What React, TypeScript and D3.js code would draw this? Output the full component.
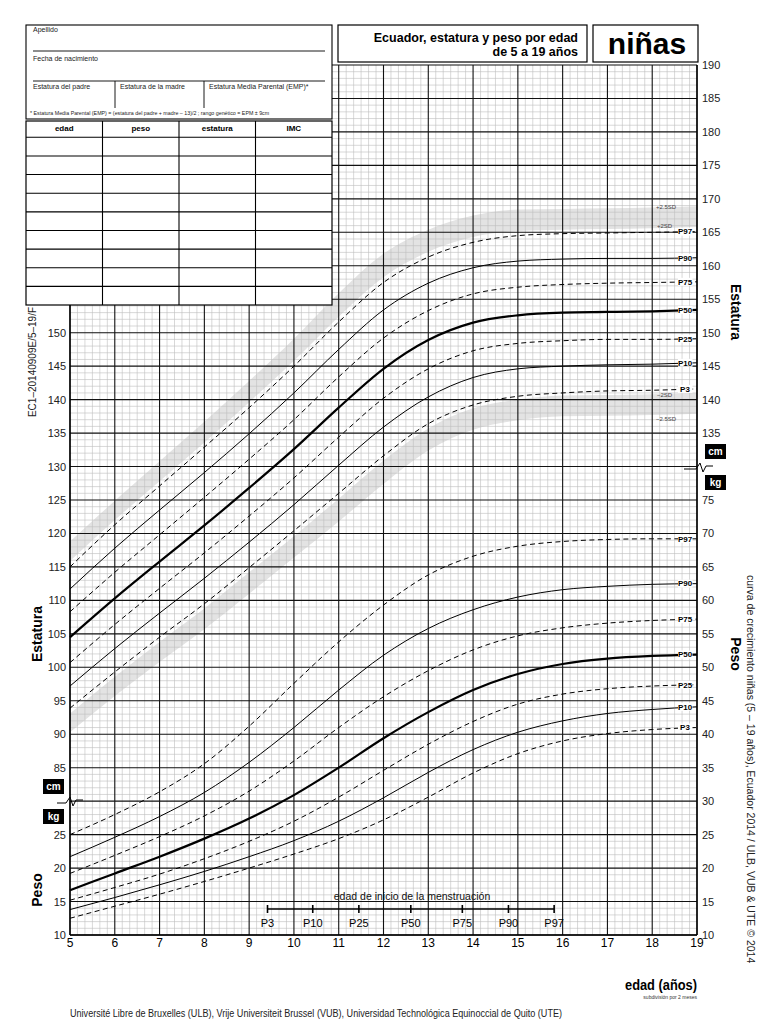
import React from "react";
import * as d3 from "d3";

// ---------- data ----------
const AGES = [5, 6, 7, 8, 9, 10, 11, 12, 13, 14, 15, 16, 17, 18, 19];

// height (cm)
const H_P3 = [93.9, 99.3, 104.5, 109.5, 114.9, 120.4, 126.0, 131.6, 136.4, 139.2, 140.5, 141.0, 141.3, 141.4, 141.6];
const H_P10 = [97.2, 102.8, 108.1, 113.3, 118.7, 124.3, 130.2, 135.9, 140.4, 143.3, 144.6, 145.0, 145.2, 145.3, 145.5];
const H_P25 = [100.7, 106.4, 111.8, 117.1, 122.6, 128.3, 134.4, 140.2, 144.6, 147.3, 148.4, 148.8, 149.0, 149.0, 149.1];
const H_P50 = [104.5, 110.3, 115.8, 121.2, 126.8, 132.6, 138.8, 144.6, 148.9, 151.5, 152.6, 153.0, 153.1, 153.2, 153.4];
const H_P75 = [108.3, 114.2, 119.8, 125.4, 131.1, 137.0, 143.4, 149.2, 153.3, 155.8, 156.8, 157.2, 157.4, 157.5, 157.6];
const H_P90 = [111.7, 117.8, 123.5, 129.1, 134.9, 141.0, 147.5, 153.4, 157.4, 159.7, 160.7, 161.0, 161.1, 161.1, 161.2];
const H_P97 = [115.0, 121.3, 127.1, 132.9, 138.8, 145.0, 151.6, 157.5, 161.3, 163.5, 164.5, 164.8, 164.9, 165.0, 165.1];

// height SD bands (cm)
const H_PLUS2SD = [115.9, 122.0, 127.8, 133.6, 139.6, 145.8, 152.4, 158.3, 162.1, 164.3, 165.2, 165.4, 165.5, 165.6, 165.8];
const H_PLUS25SD = [118.8, 124.9, 130.8, 136.7, 142.8, 149.1, 155.9, 161.8, 165.4, 167.5, 168.4, 168.5, 168.6, 168.7, 168.9];
const H_MINUS2SD = [93.1, 98.6, 103.8, 108.8, 114.2, 119.6, 125.2, 130.9, 135.7, 138.7, 140.0, 140.6, 140.7, 140.8, 141.0];
const H_MINUS25SD = [90.3, 95.7, 100.8, 105.7, 111.0, 116.4, 121.8, 127.4, 132.4, 135.5, 136.9, 137.5, 137.6, 137.7, 137.9];

// weight (kg)
const W_P3 = [12.5, 14.3, 16.1, 18.0, 20.0, 22.1, 24.4, 27.2, 30.6, 34.2, 37.1, 39.0, 40.1, 40.7, 41.0];
const W_P10 = [13.8, 15.6, 17.5, 19.5, 21.7, 24.1, 27.0, 30.5, 34.3, 37.7, 40.3, 42.0, 43.1, 43.7, 44.1];
const W_P25 = [15.2, 17.1, 19.1, 21.4, 24.0, 27.0, 30.6, 34.6, 38.5, 41.9, 44.5, 46.0, 46.8, 47.2, 47.4];
const W_P50 = [16.7, 19.2, 21.7, 24.4, 27.4, 30.9, 35.0, 39.4, 43.3, 46.6, 49.0, 50.5, 51.3, 51.7, 51.9];
const W_P75 = [19.2, 21.9, 24.7, 27.8, 31.5, 36.0, 41.0, 45.6, 49.5, 52.6, 54.7, 55.9, 56.6, 57.0, 57.2];
const W_P90 = [21.7, 24.6, 27.7, 31.3, 35.8, 41.0, 46.6, 51.8, 55.8, 58.6, 60.5, 61.6, 62.1, 62.4, 62.5];
const W_P97 = [25.0, 28.0, 31.4, 35.6, 41.2, 47.6, 53.8, 59.3, 63.8, 66.6, 68.1, 68.8, 69.1, 69.2, 69.2];

const PCT_NAMES = ["P3", "P10", "P25", "P50", "P75", "P90", "P97"];
const HEIGHT_CURVES = [H_P3, H_P10, H_P25, H_P50, H_P75, H_P90, H_P97];
const WEIGHT_CURVES = [W_P3, W_P10, W_P25, W_P50, W_P75, W_P90, W_P97];

// age at menarche percentiles (years)
const MENARCHE_LABELS = ["P3", "P10", "P25", "P50", "P75", "P90", "P97"];
const MENARCHE_AGES = [9.41, 10.42, 11.45, 12.61, 13.76, 14.79, 15.81];

// tick labels
const X_TICKS = [5, 6, 7, 8, 9, 10, 11, 12, 13, 14, 15, 16, 17, 18, 19];
const LEFT_CM_TICKS = [85, 90, 95, 100, 105, 110, 115, 120, 125, 130, 135, 140, 145, 150];
const LEFT_KG_TICKS = [10, 15, 20, 25];
const RIGHT_CM_TICKS = [135, 140, 145, 150, 155, 160, 165, 170, 175, 180, 185, 190];
const RIGHT_KG_TICKS = [10, 15, 20, 25, 30, 35, 40, 45, 50, 55, 60, 65, 70, 75];

const TABLE_HEADERS = ["edad", "peso", "estatura", "IMC"];
const TABLE_ROWS = 9;

const SANS = "'Liberation Sans', Arial, Helvetica, sans-serif";
const NARROW = "'Liberation Sans Narrow', 'Liberation Sans', Arial, sans-serif";

export default function App() {
  const x = d3.scaleLinear().domain([5, 19]).range([70, 697]);
  const yKg = d3.scaleLinear().domain([10, 140]).range([935, 65]);
  const yCm = d3.scaleLinear().domain([60, 190]).range([935, 65]);

  const mkLine = (scale: d3.ScaleLinear<number, number>) =>
    d3
      .line<number>()
      .x((_, i) => x(AGES[i]))
      .y((d) => scale(d))
      .curve(d3.curveMonotoneX);

  const mkBand = (lo: number[], hi: number[]) =>
    d3
      .area<number>()
      .x((_, i) => x(AGES[i]))
      .y0((_, i) => yCm(lo[i]))
      .y1((d) => yCm(d))
      .curve(d3.curveMonotoneX)(hi) || "";

  const lineCm = mkLine(yCm);
  const lineKg = mkLine(yKg);

  const [x0, x1] = x.range();
  const yTop = 65;
  const yBot = 935;

  const minorH = d3.range(10, 141, 1).filter((v) => v % 5 !== 0);
  const majorH = d3.range(10, 141, 5);
  const minorV = d3.range(0, 85).filter((i) => i % 6 !== 0).map((i) => 5 + i / 6);
  const majorV = d3.range(5, 20, 1);

  const styleFor = (name: string) => {
    if (name === "P50") return { sw: 2.2, dash: undefined };
    if (name === "P10" || name === "P90") return { sw: 1, dash: undefined };
    return { sw: 1, dash: "5 3.5" };
  };

  const colX = [26, 102.5, 179, 255.5, 332];
  const rowY0 = 137.3;
  const rowH = (305 - 137.3) / TABLE_ROWS;

  return (
    <svg
      width={768}
      height={1024}
      viewBox="0 0 768 1024"
      style={{ position: "absolute", left: 0, top: 0, background: "#fff" }}
      fontFamily={SANS}
    >
      <rect x={0} y={0} width={768} height={1024} fill="#fff" />

      {/* SD bands */}
      <path d={mkBand(H_PLUS2SD, H_PLUS25SD)} fill="#e3e3e3" />
      <path d={mkBand(H_MINUS25SD, H_MINUS2SD)} fill="#e3e3e3" />

      {/* grid */}
      <g>
        {minorH.map((v) => (
          <line key={"mh" + v} x1={x0} x2={x1} y1={yKg(v)} y2={yKg(v)} stroke="#bdbdbd" strokeWidth={0.6} />
        ))}
        {minorV.map((a) => (
          <line key={"mv" + a} x1={x(a)} x2={x(a)} y1={yTop} y2={yBot} stroke="#bdbdbd" strokeWidth={0.6} />
        ))}
        {majorH.map((v) => (
          <line key={"MH" + v} x1={x0} x2={x1} y1={yKg(v)} y2={yKg(v)} stroke="#111" strokeWidth={1.1} />
        ))}
        {majorV.map((a) => (
          <line key={"MV" + a} x1={x(a)} x2={x(a)} y1={yTop} y2={yBot} stroke="#111" strokeWidth={1.1} />
        ))}
        <line x1={x0} x2={x0} y1={yTop} y2={yBot} stroke="#000" strokeWidth={1.4} />
        <line x1={x1} x2={x1} y1={yTop} y2={yBot} stroke="#000" strokeWidth={1.4} />
        <line x1={x0} x2={x1} y1={yBot} y2={yBot} stroke="#000" strokeWidth={1.4} />
      </g>

      {/* curves */}
      <g fill="none" stroke="#000" strokeLinecap="butt">
        {HEIGHT_CURVES.map((vals, i) => {
          const s = styleFor(PCT_NAMES[i]);
          return <path key={"h" + i} d={lineCm(vals) || ""} strokeWidth={s.sw} strokeDasharray={s.dash} />;
        })}
        {WEIGHT_CURVES.map((vals, i) => {
          const s = styleFor(PCT_NAMES[i]);
          return <path key={"w" + i} d={lineKg(vals) || ""} strokeWidth={s.sw} strokeDasharray={s.dash} />;
        })}
      </g>

      {/* curve labels */}
      <g fontFamily={NARROW} fontWeight="bold" fontSize={8}>
        {HEIGHT_CURVES.map((vals, i) => {
          const yy = yCm(vals[vals.length - 1]);
          return (
            <g key={"hl" + i}>
              <rect x={678} y={yy - 4} width={14.5} height={8} fill="#fff" />
              <text x={685} y={yy + 2.8} textAnchor="middle">{PCT_NAMES[i]}</text>
            </g>
          );
        })}
        {WEIGHT_CURVES.map((vals, i) => {
          const yy = yKg(vals[vals.length - 1]);
          return (
            <g key={"wl" + i}>
              <rect x={678} y={yy - 4} width={14.5} height={8} fill="#fff" />
              <text x={685} y={yy + 2.8} textAnchor="middle">{PCT_NAMES[i]}</text>
            </g>
          );
        })}
      </g>
      <g fontSize={6} fill="#444">
        <text x={656} y={yCm(H_PLUS25SD[14]) + 3}>+2.5SD</text>
        <text x={657} y={yCm(H_PLUS2SD[14]) + 1}>+2SD</text>
        <text x={657} y={yCm(H_MINUS2SD[14]) + 4}>−2SD</text>
        <text x={656} y={yCm(H_MINUS25SD[14]) + 7}>−2.5SD</text>
      </g>

      {/* menarche */}
      <g>
        <text x={412} y={900} textAnchor="middle" fontFamily={NARROW} fontSize={10.5} fill="#111">
          edad de inicio de la menstruación
        </text>
        <line
          x1={x(MENARCHE_AGES[0])}
          x2={x(MENARCHE_AGES[MENARCHE_AGES.length - 1])}
          y1={909}
          y2={909}
          stroke="#000"
          strokeWidth={1.4}
        />
        {MENARCHE_AGES.map((a, i) => (
          <g key={"m" + i}>
            <line x1={x(a)} x2={x(a)} y1={905} y2={913} stroke="#000" strokeWidth={1.6} />
            <text x={x(a)} y={927} textAnchor="middle" fontFamily={NARROW} fontSize={11}>
              {MENARCHE_LABELS[i]}
            </text>
          </g>
        ))}
      </g>

      {/* x axis labels */}
      <g fontFamily={NARROW} fontSize={12} textAnchor="middle">
        {X_TICKS.map((t) => (
          <text key={"x" + t} x={x(t)} y={947}>{t}</text>
        ))}
      </g>

      {/* left axis labels */}
      <g fontSize={11} textAnchor="end" fill="#222">
        {LEFT_CM_TICKS.map((t) => (
          <text key={"lc" + t} x={66} y={yCm(t) + 4}>{t}</text>
        ))}
        {LEFT_KG_TICKS.map((t) => (
          <text key={"lk" + t} x={66} y={yKg(t) + 4}>{t}</text>
        ))}
      </g>
      {/* right axis labels */}
      <g fontSize={11} textAnchor="start" fill="#222">
        {RIGHT_CM_TICKS.map((t) => (
          <text key={"rc" + t} x={702} y={yCm(t) + 4}>{t}</text>
        ))}
        {RIGHT_KG_TICKS.map((t) => (
          <text key={"rk" + t} x={702} y={yKg(t) + 4}>{t}</text>
        ))}
      </g>

      {/* unit boxes and breaks */}
      <g>
        <rect x={43} y={779} width={21} height={15} fill="#000" />
        <text x={53.5} y={790} textAnchor="middle" fill="#fff" fontWeight="bold" fontSize={10}>cm</text>
        <rect x={43} y={809} width={21} height={15} fill="#000" />
        <text x={53.5} y={820} textAnchor="middle" fill="#fff" fontWeight="bold" fontSize={10}>kg</text>
        <polyline points="57,803 66,803 70,797 73,806 76,800 83,800" fill="none" stroke="#000" strokeWidth={1} />

        <rect x={705} y={444} width={21} height={15} fill="#000" />
        <text x={715.5} y={455} textAnchor="middle" fill="#fff" fontWeight="bold" fontSize={10}>cm</text>
        <rect x={705} y={475} width={21} height={15} fill="#000" />
        <text x={715.5} y={486} textAnchor="middle" fill="#fff" fontWeight="bold" fontSize={10}>kg</text>
        <polyline points="684,469 696,469 700,463 703,472 706,466 713,466" fill="none" stroke="#000" strokeWidth={1} />
      </g>

      {/* axis titles */}
      <g fontWeight="bold" fontSize={14}>
        <text transform="translate(42,634) rotate(-90)" textAnchor="middle">Estatura</text>
        <text transform="translate(42,890) rotate(-90)" textAnchor="middle">Peso</text>
        <text transform="translate(731,312) rotate(90)" textAnchor="middle">Estatura</text>
        <text transform="translate(731,654) rotate(90)" textAnchor="middle">Peso</text>
      </g>
      <text transform="translate(36,362) rotate(-90)" textAnchor="middle" fontSize={10} fill="#222">
        EC1–20140909E/5–19/F
      </text>
      <text transform="translate(747,575) rotate(90)" textAnchor="start" fontSize={10.5} fill="#222">
        curva de crecimiento niñas (5 – 19 años), Ecuador 2014 / ULB, VUB &amp; UTE © 2014
      </text>

      {/* bottom texts */}
      <text
        x={697}
        y={990}
        textAnchor="end"
        fontWeight="bold"
        fontSize={14}
        fontFamily={NARROW}
        textLength={72}
        lengthAdjust="spacingAndGlyphs"
      >
        edad (años)
      </text>
      <text x={697} y={999} textAnchor="end" fontSize={5} fill="#333">
        subdivisión por 2 meses
      </text>
      <text
        x={70}
        y={1017}
        fontFamily={NARROW}
        fontSize={10.5}
        fill="#222"
        textLength={492}
        lengthAdjust="spacingAndGlyphs"
      >
        Université Libre de Bruxelles (ULB), Vrije Universiteit Brussel (VUB), Universidad Technológica Equinoccial de Quito (UTE)
      </text>

      {/* title boxes */}
      <rect x={338} y={25} width={249} height={37} fill="#fff" stroke="#000" strokeWidth={1.2} />
      <text x={578} y={42} textAnchor="end" fontWeight="bold" fontSize={12.5}>
        Ecuador, estatura y peso por edad
      </text>
      <text x={578} y={56} textAnchor="end" fontWeight="bold" fontSize={12.5}>
        de 5 a 19 años
      </text>
      <rect x={593} y={25} width={105} height={37} fill="#fff" stroke="#000" strokeWidth={1.2} />
      <text x={647} y={54} textAnchor="middle" fontWeight="bold" fontSize={30}>
        niñas
      </text>

      {/* patient box */}
      <g>
        <rect x={26} y={25} width={306} height={280} fill="#fff" />
        <rect x={26} y={25} width={306} height={94} fill="#fff" stroke="#000" strokeWidth={1.1} />
        <line x1={33} x2={325} y1={51} y2={51} stroke="#000" strokeWidth={0.9} />
        <line x1={33} x2={325} y1={81} y2={81} stroke="#000" strokeWidth={0.9} />
        <line x1={115} x2={115} y1={81} y2={108} stroke="#000" strokeWidth={0.9} />
        <line x1={204} x2={204} y1={81} y2={108} stroke="#000" strokeWidth={0.9} />
        <g fontSize={7} fill="#222">
          <text x={33} y={32}>Apellido</text>
          <text x={33} y={61}>Fecha de nacimiento</text>
          <text x={33} y={89}>Estatura del padre</text>
          <text x={120} y={89}>Estatura de la madre</text>
          <text x={209} y={89}>Estatura Media Parental (EMP)*</text>
        </g>
        <text x={30} y={115} fontSize={5.3} fill="#222">
          * Estatura Media Parental (EMP) = (estatura del padre + madre – 13)/2 ; rango genético = EPM ± 9cm
        </text>

        <rect x={26} y={121} width={306} height={184} fill="#fff" stroke="#000" strokeWidth={1.2} />
        {d3.range(0, TABLE_ROWS).map((r) => (
          <line key={"tr" + r} x1={26} x2={332} y1={rowY0 + r * rowH} y2={rowY0 + r * rowH} stroke="#000" strokeWidth={1.1} />
        ))}
        {colX.slice(1, 4).map((cx) => (
          <line key={"tc" + cx} x1={cx} x2={cx} y1={121} y2={305} stroke="#000" strokeWidth={1.1} />
        ))}
        {TABLE_HEADERS.map((h, i) => (
          <text key={h} x={(colX[i] + colX[i + 1]) / 2} y={131} textAnchor="middle" fontWeight="bold" fontSize={8}>
            {h}
          </text>
        ))}
      </g>
    </svg>
  );
}
